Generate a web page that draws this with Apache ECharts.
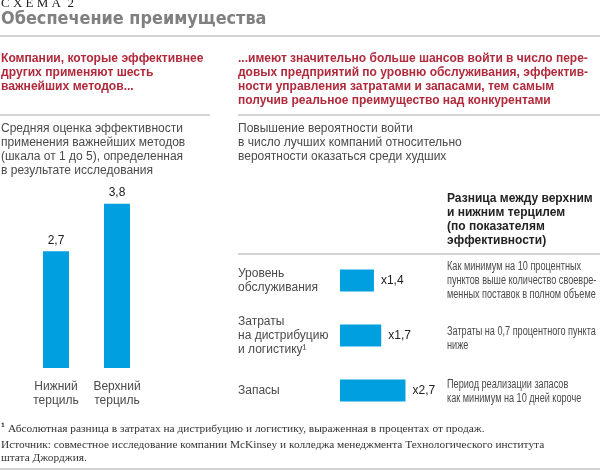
<!DOCTYPE html>
<html>
  <head>
    <meta charset="utf-8" />
    <title>Обеспечение преимущества</title>
    <style type="text/css">
      html,
      body {
        margin: 0;
        background: #fff;
      }
    </style>
    <script src="https://cdn.jsdelivr.net/npm/echarts@6/dist/echarts.min.js"></script>
  </head>
  <body>
    <div id="chart" style="width: 600px; height: 470px"></div>
    <script type="text/javascript">
      // данные
      var tercileNames = ["Нижний\nтерциль", "Верхний\nтерциль"];
      var tercileValues = [2.7, 3.8];
      var metricNames = [
        "Уровень\nобслуживания",
        "Затраты\nна дистрибуцию\nи логистику¹",
        "Запасы",
      ];
      var metricValues = [1.4, 1.7, 2.7];

      var BLUE = "#00a0e0";
      var RED = "#b02a3c";
      var GREY = "#4a4a4a";
      var LINE = "#a8a8a8";
      var SANS = "'Liberation Sans', Arial, sans-serif";
      var SERIF = "'Liberation Serif', serif";

      function comma(v) {
        return String(v).replace(".", ",");
      }

      function text(x, y, str, font, fill, scaleX) {
        return {
          type: "text",
          x: x,
          y: y,
          scaleX: scaleX || 1,
          style: {
            text: str,
            font: font,
            fill: fill,
            textVerticalAlign: "middle",
          },
        };
      }

      function rule(x1, x2, y) {
        return {
          type: "line",
          shape: { x1: x1, y1: y, x2: x2, y2: y },
          style: { stroke: LINE, lineWidth: 1 },
        };
      }

      // блок строк: одна строка на каждый y
      function block(x, ys, lines, font, fill, scaleX) {
        return lines.map((s, i) => text(x, ys[i], s, font, fill, scaleX));
      }

      var NOTE_FONT = "12.5px " + SANS;
      var NOTE_SCALE = 0.73;

      var graphics = [].concat(
        [rule(0, 600, 36), rule(0, 210, 115), rule(238, 600, 115), rule(238, 600, 254), rule(0, 600, 469)],
        [text(1, 4, "С Х Е М А  2", "13px " + SERIF, "#222")],
        [text(1, 19, "Обеспечение преимущества", "bold 17.5px 'DejaVu Sans', sans-serif", "#808080", 0.92)],
        block(1, [59, 73, 87], [
          "Компании, которые эффективнее",
          "других применяют шесть",
          "важнейших методов...",
        ], "bold 12.1px " + SANS, RED),
        block(238, [59, 73, 87, 101], [
          "...имеют значительно больше шансов войти в число пере-",
          "довых предприятий по уровню обслуживания, эффектив-",
          "ности управления затратами и запасами, тем самым",
          "получив реальное преимущество над конкурентами",
        ], "bold 12px " + SANS, RED),
        block(1, [129, 143, 157, 171], [
          "Средняя оценка эффективности",
          "применения важнейших методов",
          "(шкала от 1 до 5), определенная",
          "в результате исследования",
        ], "12px " + SANS, GREY),
        block(238, [129, 143, 157], [
          "Повышение вероятности войти",
          "в число лучших компаний относительно",
          "вероятности оказаться среди худших",
        ], "12px " + SANS, GREY),
        block(447, [199, 213, 227, 241], [
          "Разница между верхним",
          "и нижним терцилем",
          "(по показателям",
          "эффективности)",
        ], "bold 12px " + SANS, "#222"),
        block(447, [267, 281, 295], [
          "Как минимум на 10 процентных",
          "пунктов выше количество своевре-",
          "менных поставок в полном объеме",
        ], NOTE_FONT, GREY, NOTE_SCALE),
        block(447, [332, 346], [
          "Затраты на 0,7 процентного пункта",
          "ниже",
        ], NOTE_FONT, GREY, NOTE_SCALE),
        block(447, [385, 399], [
          "Период реализации запасов",
          "как минимум на 10 дней короче",
        ], NOTE_FONT, GREY, NOTE_SCALE),
        [text(1, 428, "¹", "bold 11.5px " + SANS, "#222")],
        [text(8, 429, "Абсолютная разница в затратах на дистрибуцию и логистику, выраженная в процентах от продаж.", "11.4px " + SERIF, "#333")],
        block(1, [445, 458], [
          "Источник: совместное исследование компании McKinsey и колледжа менеджмента Технологического института",
          "штата Джорджия.",
        ], "11.35px " + SERIF, "#333")
      );

      // подписи слева стоят не строго по центру полос
      var metricPadding = [[0, 0, 3, 0], [6, 0, 0, 0], [0, 0, 2, 0]];

      var chart = echarts.init(document.getElementById("chart"));
      chart.setOption({
        animation: false,
        graphic: graphics,
        grid: [
          { left: 25.5, width: 122, top: 195, height: 173 },
          { left: 340, width: 97, top: 253, height: 165 },
        ],
        xAxis: [
          {
            gridIndex: 0,
            type: "category",
            data: tercileNames,
            axisLine: { show: false },
            axisTick: { show: false },
            axisLabel: { interval: 0, hideOverlap: false, margin: 12, color: GREY, fontSize: 12, fontFamily: SANS, lineHeight: 14 },
          },
          { gridIndex: 1, type: "value", min: 0, max: 4, show: false },
        ],
        yAxis: [
          { gridIndex: 0, type: "value", min: 0, max: 4, show: false },
          {
            gridIndex: 1,
            type: "category",
            inverse: true,
            data: metricNames.map((name, i) => ({
              value: name,
              textStyle: { padding: metricPadding[i], align: "left" },
            })),
            axisLine: { show: false },
            axisTick: { show: false },
            axisLabel: {
              interval: 0,
              margin: 102,
              align: "left",
              color: GREY,
              fontSize: 12,
              fontFamily: SANS,
              lineHeight: 14,
            },
          },
        ],
        series: [
          {
            type: "bar",
            xAxisIndex: 0,
            yAxisIndex: 0,
            data: tercileValues,
            barWidth: 26,
            itemStyle: { color: BLUE },
            label: {
              show: true,
              position: "top",
              distance: 5,
              color: "#222",
              fontSize: 12,
              fontFamily: SANS,
              formatter: (p) => comma(p.value),
            },
          },
          {
            type: "bar",
            xAxisIndex: 1,
            yAxisIndex: 1,
            data: metricValues,
            barWidth: 22,
            itemStyle: { color: BLUE },
            label: {
              show: true,
              position: "right",
              distance: 7,
              color: "#222",
              fontSize: 12,
              fontFamily: SANS,
              formatter: (p) => "x" + comma(p.value),
            },
          },
        ],
      });
    </script>
  </body>
</html>
